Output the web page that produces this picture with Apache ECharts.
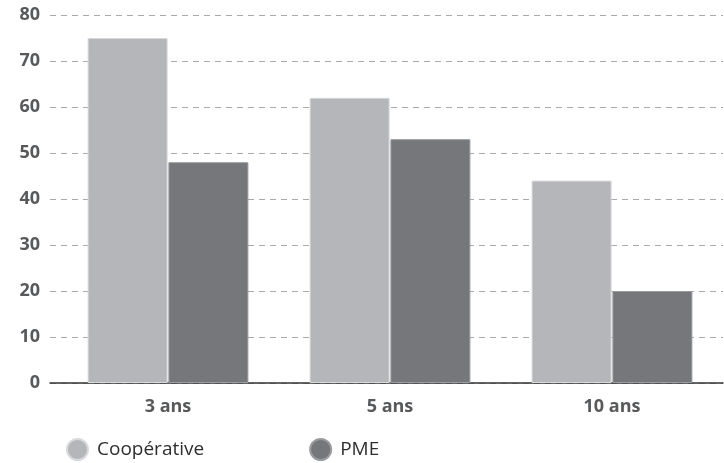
<!DOCTYPE html>
<html>
<head>
<meta charset="utf-8">
<script src="https://cdn.jsdelivr.net/npm/echarts@6/dist/echarts.min.js"></script>
<style>
  html, body { margin: 0; padding: 0; background: #fff; }
  #chart { width: 724px; height: 463px; }
</style>
</head>
<body>
<div id="chart"></div>
<script>
const categories = ["3 ans", "5 ans", "10 ans"];
const cooperative = [75, 62, 44];
const pme = [48, 53, 20];
const yTicks = [0, 10, 20, 30, 40, 50, 60, 70, 80];

const font = "'Open Sans', sans-serif";
const labelStyle = { fontSize: 18, fontWeight: "bold", color: "#58595b", fontFamily: font };

const chart = echarts.init(document.getElementById("chart"));
chart.setOption({
  animation: false,
  textStyle: { fontFamily: font },
  legend: {
    left: 61,
    top: 433,
    icon: "circle",
    itemWidth: 21,
    itemHeight: 21,
    itemGap: 105,
    textStyle: { fontSize: 19, color: "#2e2e2e", fontFamily: font, padding: [0, 0, 0, 4] },
    data: ["Coopérative", "PME"]
  },
  grid: [
    // bars
    { left: 57, right: 1, top: 15, bottom: 80 },
    // gridlines, y labels and baseline (slightly wider, like the original)
    { left: 50, right: 1, top: 15, bottom: 80 }
  ],
  xAxis: [
    {
      type: "category",
      gridIndex: 0,
      data: categories,
      axisTick: { show: false },
      axisLine: { show: false },
      axisLabel: Object.assign({ margin: 15 }, labelStyle)
    },
    {
      type: "value",
      gridIndex: 1,
      min: 0,
      max: 1,
      axisTick: { show: false },
      axisLabel: { show: false },
      splitLine: { show: false },
      axisLine: { lineStyle: { color: "#333", width: 1.5 } }
    }
  ],
  yAxis: [
    {
      type: "value",
      gridIndex: 0,
      min: yTicks[0],
      max: yTicks[yTicks.length - 1],
      interval: 10,
      axisLine: { show: false },
      axisTick: { show: false },
      axisLabel: { show: false },
      splitLine: { show: false }
    },
    {
      type: "value",
      gridIndex: 1,
      min: yTicks[0],
      max: yTicks[yTicks.length - 1],
      interval: 10,
      axisLine: { show: false },
      axisTick: { show: false },
      axisLabel: Object.assign({ margin: 10 }, labelStyle),
      splitLine: {
        lineStyle: { color: "#aaa", type: [6, 5], width: 1 }
      }
    }
  ],
  series: [
    {
      name: "Coopérative",
      type: "bar",
      xAxisIndex: 0,
      yAxisIndex: 0,
      data: cooperative,
      barWidth: 80,
      barGap: "1%",
      z: 3,
      itemStyle: { color: "#b5b6b9", borderColor: "#d8d9db", borderWidth: 1 }
    },
    {
      name: "PME",
      type: "bar",
      xAxisIndex: 0,
      yAxisIndex: 0,
      data: pme,
      barWidth: 80,
      z: 3,
      itemStyle: { color: "#76777a", borderColor: "#9a9b9e", borderWidth: 1 }
    }
  ]
});
</script>
</body>
</html>
